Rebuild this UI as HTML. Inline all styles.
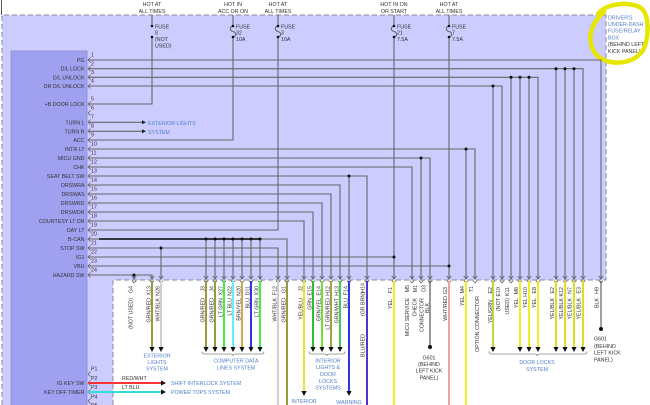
<!DOCTYPE html>
<html><head><meta charset="utf-8"><style>
html,body{margin:0;padding:0;background:#fff;overflow:hidden}
svg{display:block}
text{font-family:"Liberation Sans",Arial,sans-serif;font-size:5.3px;fill:#333}
.b{fill:#4f7fc8}
.c{text-anchor:middle}
.r{text-anchor:end}
</style></head><body>
<svg width="650" height="405" viewBox="0 0 650 405" xmlns="http://www.w3.org/2000/svg">
<rect width="650" height="405" fill="#fff"/>
<path d="M2,15 H606 V280 H113 V405 H2 Z" fill="#ccccff"/>
<path d="M2,405 V15 H606 V280 H113 V405" fill="none" stroke="#8a8a9a" stroke-width="1" stroke-dasharray="5,3"/>
<line x1="1.5" y1="0" x2="1.5" y2="15" stroke="#555" stroke-width="1"/>
<rect x="11" y="51" width="76" height="360" fill="#a0a0f0" stroke="#8c8cd0" stroke-width="0.8"/>

<!-- top hot labels -->
<g class="c">
<text x="152" y="6" class="c">HOT AT</text><text x="152" y="12.8" class="c">ALL TIMES</text>
<text x="233" y="6" class="c">HOT IN</text><text x="233" y="12.8" class="c">ACC OR ON</text>
<text x="278" y="6" class="c">HOT AT</text><text x="278" y="12.8" class="c">ALL TIMES</text>
<text x="394" y="6" class="c">HOT IN ON</text><text x="394" y="12.8" class="c">OR START</text>
<text x="449" y="6" class="c">HOT AT</text><text x="449" y="12.8" class="c">ALL TIMES</text>
</g>
<!-- fuse labels -->
<text x="155" y="28.4">FUSE</text><text x="155" y="34.7">8</text><text x="155" y="41">(NOT</text><text x="155" y="47.4">USED)</text>
<text x="236" y="28.4">FUSE</text><text x="236" y="34.7">32</text><text x="236" y="41">10A</text>
<text x="281" y="28.4">FUSE</text><text x="281" y="34.7">3</text><text x="281" y="41">10A</text>
<text x="397" y="28.4">FUSE</text><text x="397" y="34.7">21</text><text x="397" y="41">7.5A</text>
<text x="452" y="28.4">FUSE</text><text x="452" y="34.7">7</text><text x="452" y="41">7.5A</text>

<!-- right label -->
<text x="608" y="19.3" class="b">DRIVER'S</text>
<text x="608" y="26" class="b">UNDER-DASH</text>
<text x="608" y="32.7" class="b">FUSE/RELAY</text>
<text x="608" y="39.4" class="b">BOX</text>
<text x="608" y="46.1">(BEHIND LEFT</text>
<text x="608" y="52.8">KICK PANEL)</text>
<path d="M598,14 C606,3 630,1 641,8 C650,15 649,40 643,50 C636,61 620,66 604,60 C592,55 589,42 591,32 C593,24 597,18 604,12" fill="none" stroke="#e6e600" stroke-width="4.5" stroke-linecap="round"/>

<!-- pin names -->
<g>
<text x="84.5" y="62" class="r">PG</text>
<text x="84.5" y="70.7" class="r">D/L LOCK</text>
<text x="84.5" y="79.3" class="r">D/L UNLOCK</text>
<text x="84.5" y="88" class="r">DR D/L UNLOCK</text>
<text x="84.5" y="106" class="r">+B DOOR LOCK</text>
<text x="84.5" y="124.3" class="r">TURN L</text>
<text x="84.5" y="133.3" class="r">TURN R</text>
<text x="84.5" y="142" class="r">ACC</text>
<text x="84.5" y="151" class="r">INTR LT</text>
<text x="84.5" y="160" class="r">MICU GND</text>
<text x="84.5" y="169" class="r">CHK</text>
<text x="84.5" y="178" class="r">SEAT BELT SW</text>
<text x="84.5" y="187" class="r">DRSWRA</text>
<text x="84.5" y="196" class="r">DRSWAS</text>
<text x="84.5" y="205" class="r">DRSWRD</text>
<text x="84.5" y="214" class="r">DRSWDR</text>
<text x="84.5" y="223" class="r">COURTESY LT DR</text>
<text x="84.5" y="232" class="r">DAY LT</text>
<text x="84.5" y="241" class="r">B-CAN</text>
<text x="84.5" y="250" class="r">STOP SW</text>
<text x="84.5" y="259" class="r">IG1</text>
<text x="84.5" y="268" class="r">VBU</text>
<text x="84.5" y="277" class="r">HAZARD SW</text>
<text x="84.5" y="385" class="r">IG KEY SW</text>
<text x="84.5" y="394" class="r">KEY OFF TIMER</text>
</g>
<!-- pin numbers -->
<g>
<text x="91" y="56.7">1</text><text x="91" y="65.4">2</text><text x="91" y="74">3</text><text x="91" y="82.7">4</text>
<text x="91" y="100.7">5</text><text x="91" y="109.7">6</text><text x="91" y="118.7">7</text><text x="91" y="127.7">8</text>
<text x="91" y="136.7">9</text><text x="91" y="145.7">10</text><text x="91" y="154.7">11</text><text x="91" y="163.7">12</text>
<text x="91" y="172.7">13</text><text x="91" y="181.7">14</text><text x="91" y="190.7">15</text><text x="91" y="199.7">16</text>
<text x="91" y="208.7">17</text><text x="91" y="217.7">18</text><text x="91" y="226.7">19</text><text x="91" y="235.7">20</text>
<text x="91" y="244.7">21</text><text x="91" y="253.7">22</text><text x="91" y="262.7">23</text><text x="91" y="271.7">24</text>
<text x="91" y="370.7">P1</text><text x="91" y="380">P2</text><text x="91" y="389">P3</text><text x="91" y="398.3">P4</text><text x="91" y="407">P5</text>
</g>
<!-- pin chevrons -->
<g fill="none" stroke="#555" stroke-width="0.7">
<path d="M90.5,57.5 L88,60 L90.5,62.5 M90.5,66.2 L88,68.7 L90.5,71.2 M90.5,74.8 L88,77.3 L90.5,79.8 M90.5,83.5 L88,86 L90.5,88.5 M90.5,101.5 L88,104 L90.5,106.5 M90.5,110.5 L88,113 L90.5,115.5 M90.5,119.5 L88,122 L90.5,124.5 M90.5,128.5 L88,131 L90.5,133.5 M90.5,137.5 L88,140 L90.5,142.5 M90.5,146.5 L88,149 L90.5,151.5 M90.5,155.5 L88,158 L90.5,160.5 M90.5,164.5 L88,167 L90.5,169.5 M90.5,173.5 L88,176 L90.5,178.5 M90.5,182.5 L88,185 L90.5,187.5 M90.5,191.5 L88,194 L90.5,196.5 M90.5,200.5 L88,203 L90.5,205.5 M90.5,209.5 L88,212 L90.5,214.5 M90.5,218.5 L88,221 L90.5,223.5 M90.5,227.5 L88,230 L90.5,232.5 M90.5,236.5 L88,239 L90.5,241.5 M90.5,245.5 L88,248 L90.5,250.5 M90.5,254.5 L88,257 L90.5,259.5 M90.5,263.5 L88,266 L90.5,268.5 M90.5,272.5 L88,275 L90.5,277.5 M90.5,371.5 L88,374 L90.5,376.5 M90.5,380.5 L88,383 L90.5,385.5 M90.5,389.5 L88,392 L90.5,394.5 M90.5,398.5 L88,401 L90.5,403.5"/>
</g>

<!-- wires in top box -->
<g stroke="#666" stroke-width="1.1" fill="none">
<path d="M88,60 H601 V278"/>
<path d="M88,68.7 H583 V278 M556,68.7 V278 M565,68.7 V278 M574,68.7 V278"/>
<path d="M88,77.3 H538 V278 M511,77.3 V278 M520,77.3 V278 M529,77.3 V278"/>
<path d="M88,86 H502 V278 M493,86 V278"/>
<path d="M88,104 H152 V37 M152,15 V26"/>
<path d="M88,122.3 H143 M88,131.3 H143"/>
<path d="M88,140 H233 V37 M233,15 V26"/>
<path d="M88,149 H475 V278 M466,149 V278"/>
<path d="M88,158 H430 V278 M421,158 V278"/>
<path d="M88,167 H412 V278"/>
<path d="M88,176 H367 V278 M349,176 V278"/>
<path d="M88,185 H340 V278"/>
<path d="M88,194 H331 V278"/>
<path d="M88,203 H322 V278"/>
<path d="M88,212 H313 V278"/>
<path d="M88,221 H304 V278"/>
<path d="M88,230 H278 V37 M278,15 V26"/>
<path d="M88,239 H287 V278 M206,239 V278 M215,239 V278 M224,239 V278 M233,239 V278 M242,239 V278 M251,239 V278 M260,239 V278"/>
<path d="M88,248 H278 V278 M161,248 V278"/>
<path d="M88,257 H394 M394,15 V26 M394,37 V278"/>
<path d="M88,266 H449 M449,15 V26 M449,37 V278"/>
<path d="M88,275 H152 V278 M134,275 V278"/>
<!-- fuse squiggles -->
<path d="M233,26 c-3.5,1 -3.5,4.5 0,5.5 c3.5,1 3.5,4.5 0,5.5 M278,26 c-3.5,1 -3.5,4.5 0,5.5 c3.5,1 3.5,4.5 0,5.5 M394,26 c-3.5,1 -3.5,4.5 0,5.5 c3.5,1 3.5,4.5 0,5.5 M449,26 c-3.5,1 -3.5,4.5 0,5.5 c3.5,1 3.5,4.5 0,5.5"/>
</g>
<line x1="99" y1="239" x2="260" y2="239" stroke="#222" stroke-width="1.8"/>
<!-- exterior light arrows -->
<path d="M142,120.3 L146,122.3 L142,124.3 Z M142,129.3 L146,131.3 L142,133.3 Z" fill="#222"/>
<text x="148" y="125" class="b">EXTERIOR LIGHTS</text>
<text x="148" y="134" class="b">SYSTEM</text>

<!-- dots -->
<g fill="#111">
<circle cx="152" cy="26" r="1.3"/><circle cx="152" cy="37" r="1.3"/>
<circle cx="233" cy="26" r="1.3"/><circle cx="233" cy="37" r="1.3"/>
<circle cx="278" cy="26" r="1.3"/><circle cx="278" cy="37" r="1.3"/>
<circle cx="394" cy="26" r="1.3"/><circle cx="394" cy="37" r="1.3"/>
<circle cx="449" cy="26" r="1.3"/><circle cx="449" cy="37" r="1.3"/>
<circle cx="556" cy="68.7" r="1.5"/><circle cx="565" cy="68.7" r="1.5"/><circle cx="574" cy="68.7" r="1.5"/>
<circle cx="511" cy="77.3" r="1.5"/><circle cx="520" cy="77.3" r="1.5"/><circle cx="529" cy="77.3" r="1.5"/>
<circle cx="493" cy="86" r="1.5"/>
<circle cx="466" cy="149" r="1.5"/><circle cx="421" cy="158" r="1.5"/><circle cx="349" cy="176" r="1.5"/>
<circle cx="206" cy="239" r="1.5"/><circle cx="215" cy="239" r="1.5"/><circle cx="224" cy="239" r="1.5"/><circle cx="233" cy="239" r="1.5"/><circle cx="242" cy="239" r="1.5"/><circle cx="251" cy="239" r="1.5"/><circle cx="260" cy="239" r="1.5"/>
<circle cx="161" cy="248" r="1.5"/><circle cx="394" cy="257" r="1.5"/><circle cx="449" cy="266" r="1.5"/><circle cx="134" cy="275" r="1.5"/>
</g>

<!-- connector chevrons at box bottom -->
<g fill="none" stroke="#555" stroke-width="0.7">
<path d="M131.8,276 L134,279 L136.2,276 M131.8,280.5 L134,283 L136.2,280.5
M149.8,276 L152,279 L154.2,276 M149.8,280.5 L152,283 L154.2,280.5
M158.8,276 L161,279 L163.2,276 M158.8,280.5 L161,283 L163.2,280.5
M203.8,276 L206,279 L208.2,276 M203.8,280.5 L206,283 L208.2,280.5
M212.8,276 L215,279 L217.2,276 M212.8,280.5 L215,283 L217.2,280.5
M221.8,276 L224,279 L226.2,276 M221.8,280.5 L224,283 L226.2,280.5
M230.8,276 L233,279 L235.2,276 M230.8,280.5 L233,283 L235.2,280.5
M239.8,276 L242,279 L244.2,276 M239.8,280.5 L242,283 L244.2,280.5
M248.8,276 L251,279 L253.2,276 M248.8,280.5 L251,283 L253.2,280.5
M257.8,276 L260,279 L262.2,276 M257.8,280.5 L260,283 L262.2,280.5
M275.8,276 L278,279 L280.2,276 M275.8,280.5 L278,283 L280.2,280.5
M284.8,276 L287,279 L289.2,276 M284.8,280.5 L287,283 L289.2,280.5
M301.8,276 L304,279 L306.2,276 M301.8,280.5 L304,283 L306.2,280.5
M310.8,276 L313,279 L315.2,276 M310.8,280.5 L313,283 L315.2,280.5
M319.8,276 L322,279 L324.2,276 M319.8,280.5 L322,283 L324.2,280.5
M328.8,276 L331,279 L333.2,276 M328.8,280.5 L331,283 L333.2,280.5
M337.8,276 L340,279 L342.2,276 M337.8,280.5 L340,283 L342.2,280.5
M346.8,276 L349,279 L351.2,276 M346.8,280.5 L349,283 L351.2,280.5
M364.8,276 L367,279 L369.2,276 M364.8,280.5 L367,283 L369.2,280.5
M391.8,276 L394,279 L396.2,276 M391.8,280.5 L394,283 L396.2,280.5
M409.8,276 L412,279 L414.2,276 M409.8,280.5 L412,283 L414.2,280.5
M418.8,276 L421,279 L423.2,276 M418.8,280.5 L421,283 L423.2,280.5
M427.8,276 L430,279 L432.2,276 M427.8,280.5 L430,283 L432.2,280.5
M446.8,276 L449,279 L451.2,276 M446.8,280.5 L449,283 L451.2,280.5
M463.8,276 L466,279 L468.2,276 M463.8,280.5 L466,283 L468.2,280.5
M472.8,276 L475,279 L477.2,276 M472.8,280.5 L475,283 L477.2,280.5
M490.8,276 L493,279 L495.2,276 M490.8,280.5 L493,283 L495.2,280.5
M499.8,276 L502,279 L504.2,276 M499.8,280.5 L502,283 L504.2,280.5
M508.8,276 L511,279 L513.2,276 M508.8,280.5 L511,283 L513.2,280.5
M517.8,276 L520,279 L522.2,276 M517.8,280.5 L520,283 L522.2,280.5
M526.8,276 L529,279 L531.2,276 M526.8,280.5 L529,283 L531.2,280.5
M535.8,276 L538,279 L540.2,276 M535.8,280.5 L538,283 L540.2,280.5
M553.8,276 L556,279 L558.2,276 M553.8,280.5 L556,283 L558.2,280.5
M562.8,276 L565,279 L567.2,276 M562.8,280.5 L565,283 L567.2,280.5
M571.8,276 L574,279 L576.2,276 M571.8,280.5 L574,283 L576.2,280.5
M580.8,276 L583,279 L585.2,276 M580.8,280.5 L583,283 L585.2,280.5
M598.8,276 L601,279 L603.2,276 M598.8,280.5 L601,283 L603.2,280.5"/>
</g>

<!-- lower coloured wires -->
<g stroke-width="2" fill="none">
<path d="M152,281 V347" stroke="#9a9a3a"/>
<path d="M161,281 V347" stroke="#d0d0d0"/>
<path d="M206,281 V347" stroke="#9a9a3a"/>
<path d="M215,281 V347" stroke="#9a9a3a"/>
<path d="M224,281 V347" stroke="#44ee44"/>
<path d="M233,281 V347" stroke="#66eeff"/>
<path d="M242,281 V347" stroke="#ccaa55"/>
<path d="M251,281 V347" stroke="#3333ee"/>
<path d="M260,281 V347" stroke="#44ee44"/>
<path d="M278,281 V405" stroke="#d0d0d0"/>
<path d="M287,281 V405" stroke="#9a9a3a"/>
<path d="M304,281 V391" stroke="#e6e633"/>
<path d="M313,281 V347" stroke="#33bb33"/>
<path d="M322,281 V347" stroke="#77dd33"/>
<path d="M331,281 V347" stroke="#aaa040"/>
<path d="M340,281 V347" stroke="#44cc44"/>
<path d="M349,281 V391" stroke="#3333ee"/>
<path d="M367,281 V405" stroke="#5533cc"/>
<path d="M394,281 V405" stroke="#eeee22"/>
<path d="M430,281 V347" stroke="#333" stroke-width="1"/>
<path d="M449,281 V405" stroke="#f4a0a0"/>
<path d="M466,281 V405" stroke="#eeee22"/>
<path d="M493,281 V347" stroke="#bbdd33"/>
<path d="M520,281 V347" stroke="#eeee22"/>
<path d="M529,281 V347" stroke="#eeee22"/>
<path d="M538,281 V347" stroke="#eeee22"/>
<path d="M556,281 V347" stroke="#dddd22"/>
<path d="M565,281 V347" stroke="#dddd22"/>
<path d="M574,281 V347" stroke="#dddd22"/>
<path d="M583,281 V347" stroke="#dddd22"/>
<path d="M601,281 V329" stroke="#444" stroke-width="1"/>
<path d="M88,383 H161" stroke="#ff3333"/>
<path d="M88,392 H161" stroke="#33dddd"/>
</g>
<!-- arrows -->
<g fill="#111">
<path d="M149.4,347 h5.2 l-2.6,5z M158.4,347 h5.2 l-2.6,5z
M203.4,347 h5.2 l-2.6,5z M212.4,347 h5.2 l-2.6,5z M221.4,347 h5.2 l-2.6,5z M230.4,347 h5.2 l-2.6,5z M239.4,347 h5.2 l-2.6,5z M248.4,347 h5.2 l-2.6,5z M257.4,347 h5.2 l-2.6,5z
M301.4,391 h5.2 l-2.6,5z
M310.4,347 h5.2 l-2.6,5z M319.4,347 h5.2 l-2.6,5z M328.4,347 h5.2 l-2.6,5z M337.4,347 h5.2 l-2.6,5z
M346.4,391 h5.2 l-2.6,5z
M490.4,347 h5.2 l-2.6,5z M517.4,347 h5.2 l-2.6,5z M526.4,347 h5.2 l-2.6,5z M535.4,347 h5.2 l-2.6,5z
M553.4,347 h5.2 l-2.6,5z M562.4,347 h5.2 l-2.6,5z M571.4,347 h5.2 l-2.6,5z M580.4,347 h5.2 l-2.6,5z
M161,380.4 l5,2.6 l-5,2.6z M161,389.4 l5,2.6 l-5,2.6z"/>
<circle cx="430" cy="347" r="2"/>
<circle cx="601" cy="329" r="2"/>
</g>
<!-- brackets -->
<g fill="none" stroke="#888" stroke-width="0.8">
<path d="M202,351.5 q0,2.5 3,2.5 H230 q3,0 3,2 q0,-2 3,-2 H261 q3,0 3,-2.5"/>
<path d="M309,351.5 q0,2.5 3,2.5 H324 q3,0 3,2 q0,-2 3,-2 H342 q3,0 3,-2.5"/>
<path d="M489,351.5 q0,2.5 3,2.5 H534 q3,0 3,2 q0,-2 3,-2 H584 q3,0 3,-2.5"/>
</g>

<!-- system labels -->
<g class="b">
<text x="157" y="357.3" class="b c">EXTERIOR</text>
<text x="157" y="364" class="b c">LIGHTS</text>
<text x="157" y="370.7" class="b c">SYSTEM</text>
<text x="236" y="362.3" class="b c">COMPUTER DATA</text>
<text x="236" y="369.7" class="b c">LINES SYSTEM</text>
<text x="328" y="362.3" class="b c">INTERIOR</text>
<text x="328" y="369" class="b c">LIGHTS &amp;</text>
<text x="328" y="376" class="b c">DOOR</text>
<text x="328" y="383" class="b c">LOCKS</text>
<text x="328" y="389.7" class="b c">SYSTEMS</text>
<text x="304" y="403" class="b c">INTERIOR</text>
<text x="349" y="404" class="b c">WARNING</text>
<text x="537" y="364" class="b c">DOOR LOCKS</text>
<text x="537" y="371" class="b c">SYSTEM</text>
<text x="171" y="385" class="b">SHIFT INTERLOCK SYSTEM</text>
<text x="171" y="394" class="b">POWER TOPS SYSTEM</text>
</g>
<text x="122" y="380">RED/WHT</text>
<text x="122" y="389">LT BLU</text>
<text x="429" y="359.3" class="c">G601</text>
<text x="429" y="366" class="c">(BEHIND</text>
<text x="429" y="372.7" class="c">LEFT KICK</text>
<text x="429" y="379.3" class="c">PANEL)</text>
<text x="594" y="340.7">G601</text>
<text x="594" y="348">(BEHIND</text>
<text x="594" y="354.7">LEFT KICK</text>
<text x="594" y="361.3">PANEL)</text>

<!-- rotated wire labels -->
<g class="r" text-anchor="end">
<text transform="translate(132.5,286) rotate(-90)" text-anchor="end">G4</text>
<text transform="translate(132.5,298) rotate(-90)" text-anchor="end">(NOT USED)</text>
<text transform="translate(150.5,286) rotate(-90)" text-anchor="end">X13</text>
<text transform="translate(150.5,298) rotate(-90)" text-anchor="end">GRN/RED</text>
<text transform="translate(159.5,286) rotate(-90)" text-anchor="end">N26</text>
<text transform="translate(159.5,298) rotate(-90)" text-anchor="end">WHT/BLK</text>
<text transform="translate(204.5,286) rotate(-90)" text-anchor="end">J3</text>
<text transform="translate(204.5,298) rotate(-90)" text-anchor="end">GRN/RED</text>
<text transform="translate(213.5,286) rotate(-90)" text-anchor="end">J4</text>
<text transform="translate(213.5,298) rotate(-90)" text-anchor="end">GRN/RED</text>
<text transform="translate(222.5,286) rotate(-90)" text-anchor="end">X27</text>
<text transform="translate(222.5,298) rotate(-90)" text-anchor="end">LT GRN</text>
<text transform="translate(231.5,286) rotate(-90)" text-anchor="end">N22</text>
<text transform="translate(231.5,298) rotate(-90)" text-anchor="end">LT BLU</text>
<text transform="translate(240.5,286) rotate(-90)" text-anchor="end">N20</text>
<text transform="translate(240.5,298) rotate(-90)" text-anchor="end">BRN/YEL</text>
<text transform="translate(249.5,286) rotate(-90)" text-anchor="end">D11</text>
<text transform="translate(249.5,298) rotate(-90)" text-anchor="end">BLU</text>
<text transform="translate(258.5,286) rotate(-90)" text-anchor="end">X30</text>
<text transform="translate(258.5,298) rotate(-90)" text-anchor="end">LT GRN</text>
<text transform="translate(276.5,286) rotate(-90)" text-anchor="end">F12</text>
<text transform="translate(276.5,298) rotate(-90)" text-anchor="end">WHT/BLK</text>
<text transform="translate(285.5,286) rotate(-90)" text-anchor="end">G1</text>
<text transform="translate(285.5,298) rotate(-90)" text-anchor="end">GRN/RED</text>
<text transform="translate(302.5,286) rotate(-90)" text-anchor="end">J2</text>
<text transform="translate(302.5,298) rotate(-90)" text-anchor="end">YEL/BLU</text>
<text transform="translate(311.5,286) rotate(-90)" text-anchor="end">E15</text>
<text transform="translate(311.5,298) rotate(-90)" text-anchor="end">GRN</text>
<text transform="translate(320.5,286) rotate(-90)" text-anchor="end">E14</text>
<text transform="translate(320.5,298) rotate(-90)" text-anchor="end">GRN/YEL</text>
<text transform="translate(329.5,286) rotate(-90)" text-anchor="end">H12</text>
<text transform="translate(329.5,298) rotate(-90)" text-anchor="end">LT GRN/RED</text>
<text transform="translate(338.5,286) rotate(-90)" text-anchor="end">H13</text>
<text transform="translate(338.5,298) rotate(-90)" text-anchor="end">GRN/WHT</text>
<text transform="translate(347.5,286) rotate(-90)" text-anchor="end">F14</text>
<text transform="translate(347.5,298) rotate(-90)" text-anchor="end">BLU</text>
<text transform="translate(364.5,283) rotate(-90)" text-anchor="end">H14</text>
<text transform="translate(364.5,292) rotate(-90)" text-anchor="end">(GR BRN)</text>
<text transform="translate(364.5,334) rotate(-90)" text-anchor="end">BLU/RED</text>
<text transform="translate(392,287) rotate(-90)" text-anchor="end">F1</text>
<text transform="translate(392,299) rotate(-90)" text-anchor="end">YEL</text>
<text transform="translate(409,285) rotate(-90)" text-anchor="end">M5</text>
<text transform="translate(409,298) rotate(-90)" text-anchor="end">MICU SERVICE</text>
<text transform="translate(417,285) rotate(-90)" text-anchor="end">M1</text>
<text transform="translate(416.5,298) rotate(-90)" text-anchor="end">CHECK</text>
<text transform="translate(425.5,285) rotate(-90)" text-anchor="end">D3</text>
<text transform="translate(423.5,298) rotate(-90)" text-anchor="end">CONNECTOR</text>
<text transform="translate(429,303) rotate(-90)" text-anchor="end">BLK</text>
<text transform="translate(447,287) rotate(-90)" text-anchor="end">G3</text>
<text transform="translate(447,296) rotate(-90)" text-anchor="end">WHT/RED</text>
<text transform="translate(464,286) rotate(-90)" text-anchor="end">M4</text>
<text transform="translate(464,296) rotate(-90)" text-anchor="end">YEL</text>
<text transform="translate(473,286) rotate(-90)" text-anchor="end">T1</text>
<text transform="translate(479,296) rotate(-90)" text-anchor="end">OPTION CONNECTOR</text>
<text transform="translate(492,287) rotate(-90)" text-anchor="end">E2</text>
<text transform="translate(492,300) rotate(-90)" text-anchor="end">YEL/GRN</text>
<text transform="translate(500,287) rotate(-90)" text-anchor="end">E10</text>
<text transform="translate(500,298) rotate(-90)" text-anchor="end">(NOT</text>
<text transform="translate(509,287) rotate(-90)" text-anchor="end">K11</text>
<text transform="translate(509,298) rotate(-90)" text-anchor="end">USED)</text>
<text transform="translate(518,287) rotate(-90)" text-anchor="end">M8</text>
<text transform="translate(518,298) rotate(-90)" text-anchor="end">YEL</text>
<text transform="translate(527,287) rotate(-90)" text-anchor="end">H10</text>
<text transform="translate(527,298) rotate(-90)" text-anchor="end">YEL</text>
<text transform="translate(536,287) rotate(-90)" text-anchor="end">E8</text>
<text transform="translate(536,298) rotate(-90)" text-anchor="end">YEL</text>
<text transform="translate(554,287) rotate(-90)" text-anchor="end">E2</text>
<text transform="translate(554,298) rotate(-90)" text-anchor="end">YEL/BLK</text>
<text transform="translate(563,287) rotate(-90)" text-anchor="end">K12</text>
<text transform="translate(563,298) rotate(-90)" text-anchor="end">YEL/BLK</text>
<text transform="translate(571.5,287) rotate(-90)" text-anchor="end">N7</text>
<text transform="translate(571.5,298) rotate(-90)" text-anchor="end">YEL/BLK</text>
<text transform="translate(580.5,287) rotate(-90)" text-anchor="end">E3</text>
<text transform="translate(580.5,298) rotate(-90)" text-anchor="end">YEL/BLK</text>
<text transform="translate(598.5,287) rotate(-90)" text-anchor="end">H9</text>
<text transform="translate(598.5,298) rotate(-90)" text-anchor="end">BLK</text>
</g>
</svg>
</body></html>
